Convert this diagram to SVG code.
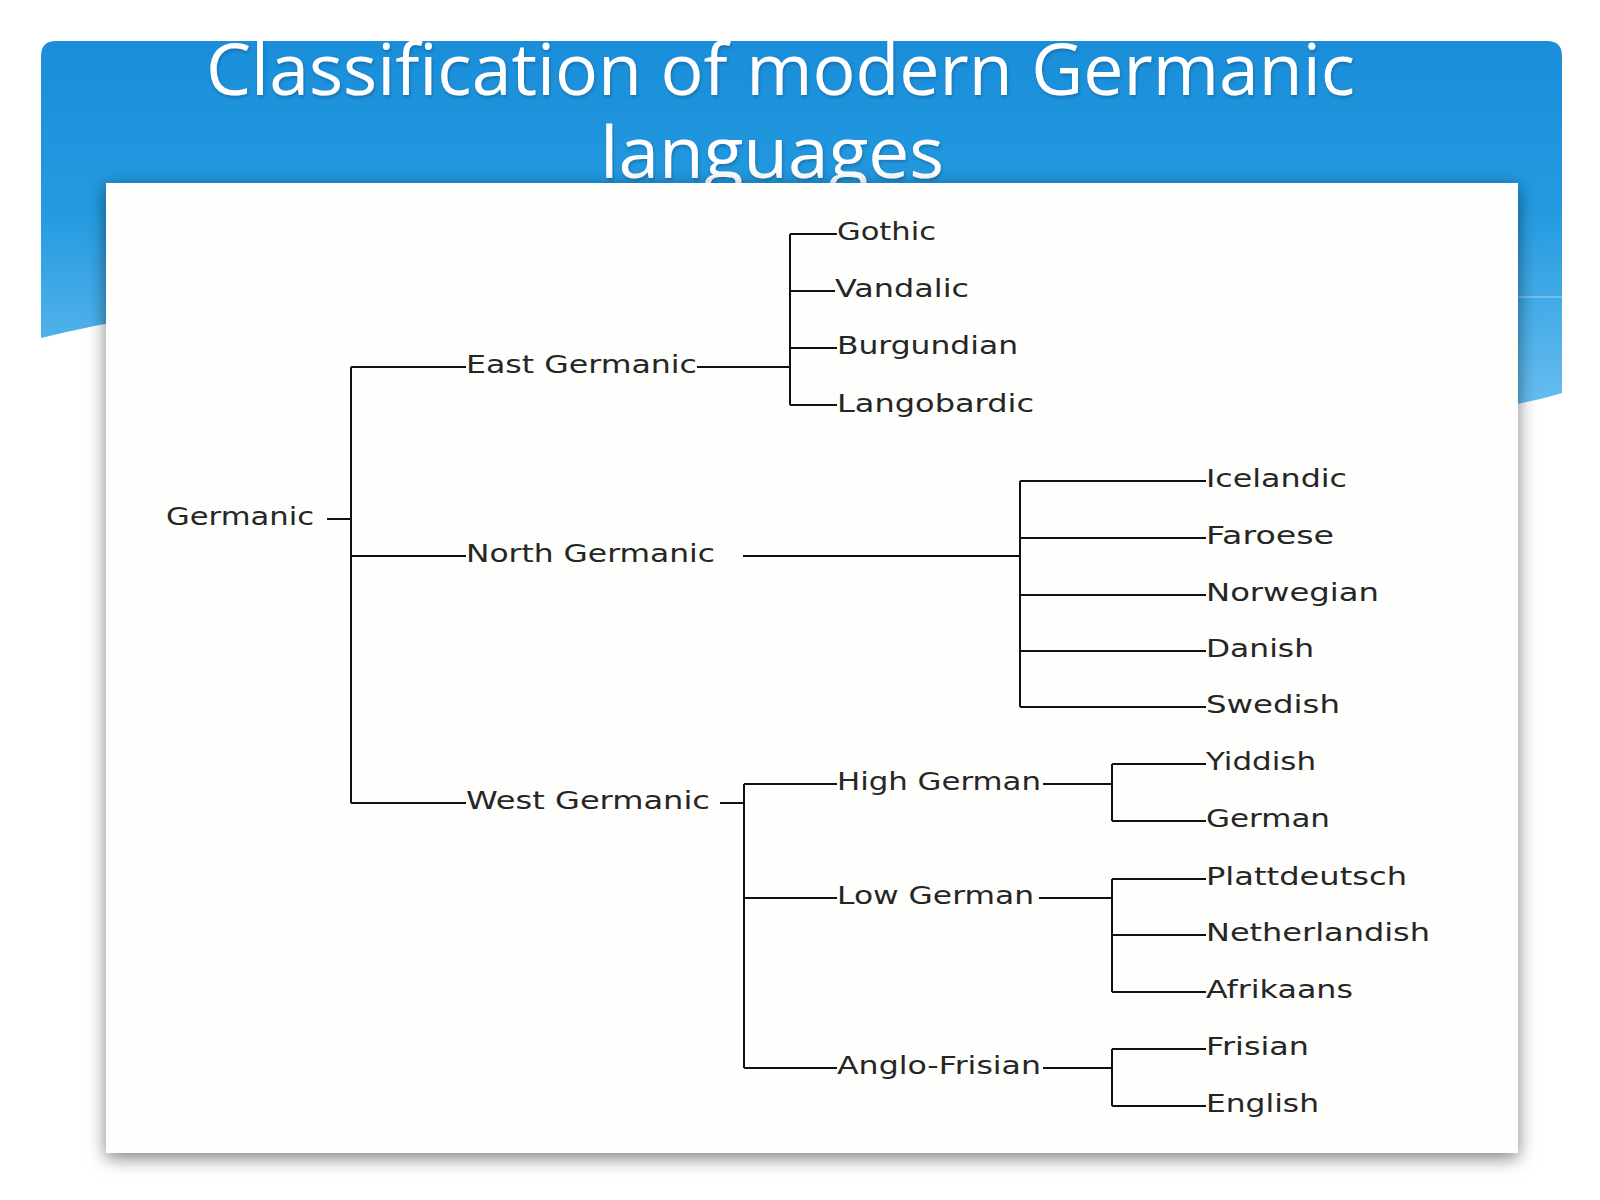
<svg xmlns="http://www.w3.org/2000/svg" width="1600" height="1200" viewBox="0 0 1600 1200">
  <defs>
    <linearGradient id="hdr" x1="0" y1="0" x2="0" y2="1">
      <stop offset="0" stop-color="#1a8ed9"/>
      <stop offset="0.45" stop-color="#239ae0"/>
      <stop offset="1" stop-color="#6bbff0"/>
    </linearGradient>
    <filter id="shadow" x="-5%" y="-5%" width="110%" height="112%">
      <feDropShadow dx="0" dy="5" stdDeviation="9" flood-color="#000" flood-opacity="0.5"/>
    </filter>
    <filter id="tshadow" x="-5%" y="-20%" width="110%" height="140%">
      <feDropShadow dx="1" dy="2" stdDeviation="1.5" flood-color="#0a4f80" flood-opacity="0.5"/>
    </filter>
  </defs>
  <style>
    .title { font-family: "Open Sans", "Noto Sans", sans-serif; font-size: 72px; fill: #ffffff; }
    .lbl { font-family: "DejaVu Sans", Verdana, sans-serif; font-size: 25px; fill: #262626; }
    .conn path { fill: none; stroke: #111111; stroke-width: 2; }
  </style>

  <rect x="0" y="0" width="1600" height="1200" fill="#ffffff"/>

  <!-- header band -->
  <g id="header">
    <path d="M41,56 Q41,41 56,41 H1547 Q1562,41 1562,56 V393 C1200,500 600,200 41,338 Z" fill="url(#hdr)"/>
    <path d="M1480,297 H1562" stroke="#8fd0f6" stroke-width="2" opacity="0.6"/>
    <g filter="url(#tshadow)">
      <text class="title" x="206" y="95" textLength="1149" lengthAdjust="spacingAndGlyphs">Classification of modern Germanic</text>
      <text class="title" x="600" y="178" textLength="344" lengthAdjust="spacingAndGlyphs">languages</text>
    </g>
  </g>

  <!-- content panel -->
  <rect id="panel" x="106" y="183" width="1412" height="970" fill="#fefefc" filter="url(#shadow)"/>

  <!-- connectors -->
  <g id="connectors" class="conn">
    <path d="M327,519 H351"/>
    <path d="M351,367 V803"/>
    <path d="M351,367 H466"/>
    <path d="M351,556 H466"/>
    <path d="M351,803 H466"/>
    <!-- East Germanic -->
    <path d="M697,367 H790"/>
    <path d="M790,234 V405"/>
    <path d="M790,234 H837"/>
    <path d="M790,291 H835"/>
    <path d="M790,348 H837"/>
    <path d="M790,405 H837"/>
    <!-- North Germanic -->
    <path d="M743,556 H1020"/>
    <path d="M1020,481 V707"/>
    <path d="M1020,481 H1206"/>
    <path d="M1020,538 H1206"/>
    <path d="M1020,595 H1206"/>
    <path d="M1020,651 H1206"/>
    <path d="M1020,707 H1206"/>
    <!-- West Germanic -->
    <path d="M720,803 H744"/>
    <path d="M744,784 V1068"/>
    <path d="M744,784 H837"/>
    <path d="M744,898 H837"/>
    <path d="M744,1068 H837"/>
    <!-- High German -->
    <path d="M1043,784 H1112"/>
    <path d="M1112,764 V821"/>
    <path d="M1112,764 H1206"/>
    <path d="M1112,821 H1206"/>
    <!-- Low German -->
    <path d="M1039,898 H1112"/>
    <path d="M1112,879 V992"/>
    <path d="M1112,879 H1206"/>
    <path d="M1112,935 H1206"/>
    <path d="M1112,992 H1206"/>
    <!-- Anglo-Frisian -->
    <path d="M1043,1068 H1112"/>
    <path d="M1112,1049 V1106"/>
    <path d="M1112,1049 H1206"/>
    <path d="M1112,1106 H1206"/>
  </g>

  <!-- nodes -->
  <g id="n-germanic"><text class="lbl" x="166" y="525" textLength="148" lengthAdjust="spacingAndGlyphs">Germanic</text></g>
  <g id="n-east"><text class="lbl" x="466" y="373" textLength="231" lengthAdjust="spacingAndGlyphs">East Germanic</text></g>
  <g id="n-north"><text class="lbl" x="466" y="562" textLength="249" lengthAdjust="spacingAndGlyphs">North Germanic</text></g>
  <g id="n-west"><text class="lbl" x="466" y="809" textLength="244" lengthAdjust="spacingAndGlyphs">West Germanic</text></g>

  <g id="n-gothic"><text class="lbl" x="837" y="240" textLength="99" lengthAdjust="spacingAndGlyphs">Gothic</text></g>
  <g id="n-vandalic"><text class="lbl" x="835" y="297" textLength="134" lengthAdjust="spacingAndGlyphs">Vandalic</text></g>
  <g id="n-burgundian"><text class="lbl" x="837" y="354" textLength="181" lengthAdjust="spacingAndGlyphs">Burgundian</text></g>
  <g id="n-langobardic"><text class="lbl" x="837" y="412" textLength="197" lengthAdjust="spacingAndGlyphs">Langobardic</text></g>

  <g id="n-icelandic"><text class="lbl" x="1206" y="487" textLength="141" lengthAdjust="spacingAndGlyphs">Icelandic</text></g>
  <g id="n-faroese"><text class="lbl" x="1206" y="544" textLength="128" lengthAdjust="spacingAndGlyphs">Faroese</text></g>
  <g id="n-norwegian"><text class="lbl" x="1206" y="601" textLength="173" lengthAdjust="spacingAndGlyphs">Norwegian</text></g>
  <g id="n-danish"><text class="lbl" x="1206" y="657" textLength="108" lengthAdjust="spacingAndGlyphs">Danish</text></g>
  <g id="n-swedish"><text class="lbl" x="1206" y="713" textLength="134" lengthAdjust="spacingAndGlyphs">Swedish</text></g>

  <g id="n-high"><text class="lbl" x="837" y="790" textLength="204" lengthAdjust="spacingAndGlyphs">High German</text></g>
  <g id="n-yiddish"><text class="lbl" x="1206" y="770" textLength="110" lengthAdjust="spacingAndGlyphs">Yiddish</text></g>
  <g id="n-german"><text class="lbl" x="1206" y="827" textLength="124" lengthAdjust="spacingAndGlyphs">German</text></g>

  <g id="n-low"><text class="lbl" x="837" y="904" textLength="197" lengthAdjust="spacingAndGlyphs">Low German</text></g>
  <g id="n-plattdeutsch"><text class="lbl" x="1206" y="885" textLength="201" lengthAdjust="spacingAndGlyphs">Plattdeutsch</text></g>
  <g id="n-netherlandish"><text class="lbl" x="1206" y="941" textLength="224" lengthAdjust="spacingAndGlyphs">Netherlandish</text></g>
  <g id="n-afrikaans"><text class="lbl" x="1206" y="998" textLength="147" lengthAdjust="spacingAndGlyphs">Afrikaans</text></g>

  <g id="n-anglofrisian"><text class="lbl" x="837" y="1074" textLength="204" lengthAdjust="spacingAndGlyphs">Anglo-Frisian</text></g>
  <g id="n-frisian"><text class="lbl" x="1206" y="1055" textLength="103" lengthAdjust="spacingAndGlyphs">Frisian</text></g>
  <g id="n-english"><text class="lbl" x="1206" y="1112" textLength="113" lengthAdjust="spacingAndGlyphs">English</text></g>
</svg>
